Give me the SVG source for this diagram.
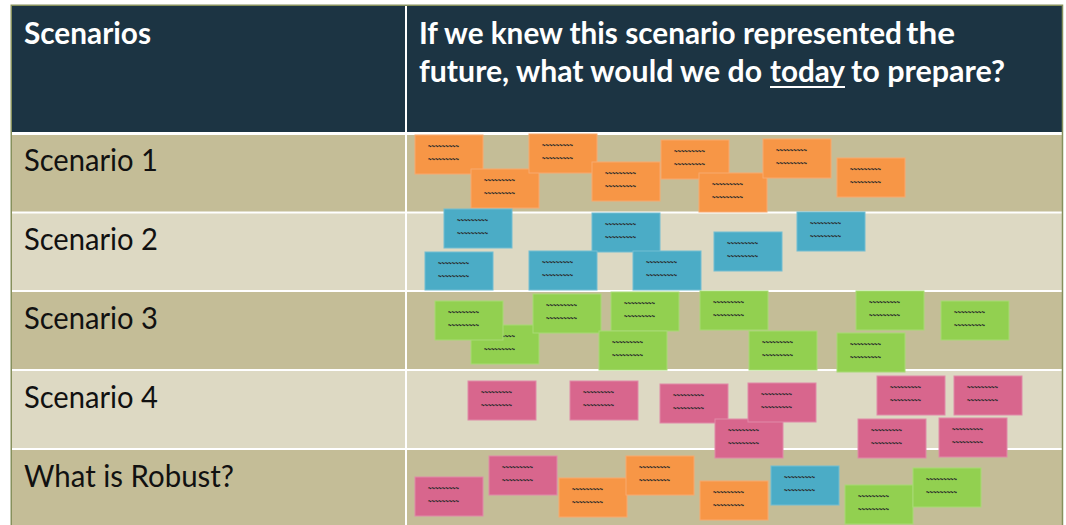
<svg xmlns="http://www.w3.org/2000/svg" width="1066" height="525" viewBox="0 0 1066 525">
<style>
.hd{fill:#1C3443}
.rd{fill:#C4BD97}
.rl{fill:#DDD9C3}
.ht{font-family:Lato,"Liberation Sans",sans-serif;font-weight:bold;font-size:30px;fill:#FFFFFF}
.lb{font-family:Lato,"Liberation Sans",sans-serif;font-size:30px;fill:#111111}
.note rect{stroke-width:1}
.or rect{fill:#F79646;stroke:#F8A96E}
.bl rect{fill:#4BACC6;stroke:#72BDD2}
.gr rect{fill:#92D050;stroke:#A8DA74}
.pk rect{fill:#D8668D;stroke:#E08AA8}
.note text{font-family:"Liberation Sans",sans-serif;font-size:10px;font-weight:bold;fill:#2A2A2A}
</style>
<rect x="0" y="0" width="1066" height="525" fill="#FFFFFF"/>
<g id="table">
<rect class="hd" x="12" y="6" width="393" height="126"/>
<rect class="hd" x="407" y="6" width="655" height="126"/>
<rect class="rd" x="12" y="135" width="393" height="76.5"/>
<rect class="rd" x="407" y="135" width="655" height="76.5"/>
<rect class="rl" x="12" y="213.5" width="393" height="76.5"/>
<rect class="rl" x="407" y="213.5" width="655" height="76.5"/>
<rect class="rd" x="12" y="292" width="393" height="77"/>
<rect class="rd" x="407" y="292" width="655" height="77"/>
<rect class="rl" x="12" y="371" width="393" height="77"/>
<rect class="rl" x="407" y="371" width="655" height="77"/>
<rect class="rd" x="12" y="450" width="393" height="80"/>
<rect class="rd" x="407" y="450" width="655" height="80"/>
<rect x="11.25" y="5.25" width="1051.25" height="530" fill="none" stroke="#86905C" stroke-width="1.5"/>
</g>
<g id="header">
<text class="ht" x="24" y="44" textLength="127" lengthAdjust="spacingAndGlyphs">Scenarios</text>
<text class="ht" y="44"><tspan x="419" textLength="483" lengthAdjust="spacingAndGlyphs">If we knew this scenario represented</tspan><tspan x="906" textLength="49" lengthAdjust="spacingAndGlyphs">the</tspan></text>
<text class="ht" y="82"><tspan x="419" textLength="343" lengthAdjust="spacingAndGlyphs">future, what would we do</tspan><tspan x="770" textLength="75" lengthAdjust="spacingAndGlyphs">today</tspan><tspan x="851" textLength="154" lengthAdjust="spacingAndGlyphs">to prepare?</tspan></text>
<line x1="770" y1="87" x2="845" y2="87" stroke="#FFFFFF" stroke-width="2"/>
</g>
<g id="labels">
<text class="lb" x="24" y="171" textLength="134" lengthAdjust="spacingAndGlyphs">Scenario 1</text>
<text class="lb" x="24" y="250" textLength="134" lengthAdjust="spacingAndGlyphs">Scenario 2</text>
<text class="lb" x="24" y="329" textLength="134" lengthAdjust="spacingAndGlyphs">Scenario 3</text>
<text class="lb" x="24" y="408" textLength="134" lengthAdjust="spacingAndGlyphs">Scenario 4</text>
<text class="lb" x="24" y="487" textLength="210" lengthAdjust="spacingAndGlyphs">What is Robust?</text>
</g>
<g id="scenario1-notes">
<g id="s1n1" class="note or"><rect x="415" y="135" width="68" height="39"/><text x="428" y="150" textLength="31" lengthAdjust="spacingAndGlyphs">~~~~~~~~~</text><text x="428" y="163" textLength="31" lengthAdjust="spacingAndGlyphs">~~~~~~~~~</text></g>
<g id="s1n2" class="note or"><rect x="471" y="169" width="68" height="39"/><text x="484" y="184" textLength="31" lengthAdjust="spacingAndGlyphs">~~~~~~~~~</text><text x="484" y="197" textLength="31" lengthAdjust="spacingAndGlyphs">~~~~~~~~~</text></g>
<g id="s1n3" class="note or"><rect x="529" y="134" width="68" height="39"/><text x="542" y="149" textLength="31" lengthAdjust="spacingAndGlyphs">~~~~~~~~~</text><text x="542" y="162" textLength="31" lengthAdjust="spacingAndGlyphs">~~~~~~~~~</text></g>
<g id="s1n4" class="note or"><rect x="592" y="162" width="68" height="39"/><text x="605" y="177" textLength="31" lengthAdjust="spacingAndGlyphs">~~~~~~~~~</text><text x="605" y="190" textLength="31" lengthAdjust="spacingAndGlyphs">~~~~~~~~~</text></g>
<g id="s1n5" class="note or"><rect x="661" y="140" width="68" height="39"/><text x="674" y="155" textLength="31" lengthAdjust="spacingAndGlyphs">~~~~~~~~~</text><text x="674" y="168" textLength="31" lengthAdjust="spacingAndGlyphs">~~~~~~~~~</text></g>
<g id="s1n6" class="note or"><rect x="699" y="173" width="68" height="39"/><text x="712" y="188" textLength="31" lengthAdjust="spacingAndGlyphs">~~~~~~~~~</text><text x="712" y="201" textLength="31" lengthAdjust="spacingAndGlyphs">~~~~~~~~~</text></g>
<g id="s1n7" class="note or"><rect x="763" y="139" width="68" height="39"/><text x="776" y="154" textLength="31" lengthAdjust="spacingAndGlyphs">~~~~~~~~~</text><text x="776" y="167" textLength="31" lengthAdjust="spacingAndGlyphs">~~~~~~~~~</text></g>
<g id="s1n8" class="note or"><rect x="837" y="158" width="68" height="39"/><text x="850" y="173" textLength="31" lengthAdjust="spacingAndGlyphs">~~~~~~~~~</text><text x="850" y="186" textLength="31" lengthAdjust="spacingAndGlyphs">~~~~~~~~~</text></g>
</g>
<g id="scenario2-notes">
<g id="s2n1" class="note bl"><rect x="444" y="209" width="68" height="39"/><text x="457" y="224" textLength="31" lengthAdjust="spacingAndGlyphs">~~~~~~~~~</text><text x="457" y="237" textLength="31" lengthAdjust="spacingAndGlyphs">~~~~~~~~~</text></g>
<g id="s2n2" class="note bl"><rect x="425" y="252" width="68" height="38"/><text x="438" y="267" textLength="31" lengthAdjust="spacingAndGlyphs">~~~~~~~~~</text><text x="438" y="280" textLength="31" lengthAdjust="spacingAndGlyphs">~~~~~~~~~</text></g>
<g id="s2n3" class="note bl"><rect x="592" y="213" width="68" height="39"/><text x="605" y="228" textLength="31" lengthAdjust="spacingAndGlyphs">~~~~~~~~~</text><text x="605" y="241" textLength="31" lengthAdjust="spacingAndGlyphs">~~~~~~~~~</text></g>
<g id="s2n4" class="note bl"><rect x="529" y="251" width="68" height="39"/><text x="542" y="266" textLength="31" lengthAdjust="spacingAndGlyphs">~~~~~~~~~</text><text x="542" y="279" textLength="31" lengthAdjust="spacingAndGlyphs">~~~~~~~~~</text></g>
<g id="s2n5" class="note bl"><rect x="633" y="251" width="68" height="39"/><text x="646" y="266" textLength="31" lengthAdjust="spacingAndGlyphs">~~~~~~~~~</text><text x="646" y="279" textLength="31" lengthAdjust="spacingAndGlyphs">~~~~~~~~~</text></g>
<g id="s2n6" class="note bl"><rect x="714" y="232" width="68" height="39"/><text x="727" y="247" textLength="31" lengthAdjust="spacingAndGlyphs">~~~~~~~~~</text><text x="727" y="260" textLength="31" lengthAdjust="spacingAndGlyphs">~~~~~~~~~</text></g>
<g id="s2n7" class="note bl"><rect x="797" y="212" width="68" height="39"/><text x="810" y="227" textLength="31" lengthAdjust="spacingAndGlyphs">~~~~~~~~~</text><text x="810" y="240" textLength="31" lengthAdjust="spacingAndGlyphs">~~~~~~~~~</text></g>
</g>
<g id="scenario3-notes">
<g id="s3n2" class="note gr"><rect x="471" y="325" width="68" height="39"/><text x="484" y="340" textLength="31" lengthAdjust="spacingAndGlyphs">~~~~~~~~~</text><text x="484" y="353" textLength="31" lengthAdjust="spacingAndGlyphs">~~~~~~~~~</text></g>
<g id="s3n1" class="note gr"><rect x="435" y="301" width="68" height="39"/><text x="448" y="316" textLength="31" lengthAdjust="spacingAndGlyphs">~~~~~~~~~</text><text x="448" y="329" textLength="31" lengthAdjust="spacingAndGlyphs">~~~~~~~~~</text></g>
<g id="s3n3" class="note gr"><rect x="533" y="294" width="68" height="39"/><text x="546" y="309" textLength="31" lengthAdjust="spacingAndGlyphs">~~~~~~~~~</text><text x="546" y="322" textLength="31" lengthAdjust="spacingAndGlyphs">~~~~~~~~~</text></g>
<g id="s3n4" class="note gr"><rect x="611" y="292" width="68" height="39"/><text x="624" y="307" textLength="31" lengthAdjust="spacingAndGlyphs">~~~~~~~~~</text><text x="624" y="320" textLength="31" lengthAdjust="spacingAndGlyphs">~~~~~~~~~</text></g>
<g id="s3n5" class="note gr"><rect x="599" y="331" width="68" height="39"/><text x="612" y="346" textLength="31" lengthAdjust="spacingAndGlyphs">~~~~~~~~~</text><text x="612" y="359" textLength="31" lengthAdjust="spacingAndGlyphs">~~~~~~~~~</text></g>
<g id="s3n6" class="note gr"><rect x="700" y="291" width="68" height="39"/><text x="713" y="306" textLength="31" lengthAdjust="spacingAndGlyphs">~~~~~~~~~</text><text x="713" y="319" textLength="31" lengthAdjust="spacingAndGlyphs">~~~~~~~~~</text></g>
<g id="s3n7" class="note gr"><rect x="749" y="331" width="68" height="39"/><text x="762" y="346" textLength="31" lengthAdjust="spacingAndGlyphs">~~~~~~~~~</text><text x="762" y="359" textLength="31" lengthAdjust="spacingAndGlyphs">~~~~~~~~~</text></g>
<g id="s3n8" class="note gr"><rect x="856" y="291" width="68" height="39"/><text x="869" y="306" textLength="31" lengthAdjust="spacingAndGlyphs">~~~~~~~~~</text><text x="869" y="319" textLength="31" lengthAdjust="spacingAndGlyphs">~~~~~~~~~</text></g>
<g id="s3n9" class="note gr"><rect x="837" y="333" width="68" height="39"/><text x="850" y="348" textLength="31" lengthAdjust="spacingAndGlyphs">~~~~~~~~~</text><text x="850" y="361" textLength="31" lengthAdjust="spacingAndGlyphs">~~~~~~~~~</text></g>
<g id="s3n10" class="note gr"><rect x="941" y="301" width="68" height="39"/><text x="954" y="316" textLength="31" lengthAdjust="spacingAndGlyphs">~~~~~~~~~</text><text x="954" y="329" textLength="31" lengthAdjust="spacingAndGlyphs">~~~~~~~~~</text></g>
</g>
<g id="scenario4-notes">
<g id="s4n1" class="note pk"><rect x="468" y="381" width="68" height="39"/><text x="481" y="396" textLength="31" lengthAdjust="spacingAndGlyphs">~~~~~~~~~</text><text x="481" y="409" textLength="31" lengthAdjust="spacingAndGlyphs">~~~~~~~~~</text></g>
<g id="s4n2" class="note pk"><rect x="570" y="381" width="68" height="39"/><text x="583" y="396" textLength="31" lengthAdjust="spacingAndGlyphs">~~~~~~~~~</text><text x="583" y="409" textLength="31" lengthAdjust="spacingAndGlyphs">~~~~~~~~~</text></g>
<g id="s4n3" class="note pk"><rect x="660" y="384" width="68" height="39"/><text x="673" y="399" textLength="31" lengthAdjust="spacingAndGlyphs">~~~~~~~~~</text><text x="673" y="412" textLength="31" lengthAdjust="spacingAndGlyphs">~~~~~~~~~</text></g>
<g id="s4n4" class="note pk"><rect x="715" y="419" width="68" height="39"/><text x="728" y="434" textLength="31" lengthAdjust="spacingAndGlyphs">~~~~~~~~~</text><text x="728" y="447" textLength="31" lengthAdjust="spacingAndGlyphs">~~~~~~~~~</text></g>
<g id="s4n5" class="note pk"><rect x="748" y="383" width="68" height="39"/><text x="761" y="398" textLength="31" lengthAdjust="spacingAndGlyphs">~~~~~~~~~</text><text x="761" y="411" textLength="31" lengthAdjust="spacingAndGlyphs">~~~~~~~~~</text></g>
<g id="s4n6" class="note pk"><rect x="877" y="376" width="68" height="39"/><text x="890" y="391" textLength="31" lengthAdjust="spacingAndGlyphs">~~~~~~~~~</text><text x="890" y="404" textLength="31" lengthAdjust="spacingAndGlyphs">~~~~~~~~~</text></g>
<g id="s4n7" class="note pk"><rect x="954" y="376" width="68" height="39"/><text x="967" y="391" textLength="31" lengthAdjust="spacingAndGlyphs">~~~~~~~~~</text><text x="967" y="404" textLength="31" lengthAdjust="spacingAndGlyphs">~~~~~~~~~</text></g>
<g id="s4n8" class="note pk"><rect x="858" y="419" width="68" height="39"/><text x="871" y="434" textLength="31" lengthAdjust="spacingAndGlyphs">~~~~~~~~~</text><text x="871" y="447" textLength="31" lengthAdjust="spacingAndGlyphs">~~~~~~~~~</text></g>
<g id="s4n9" class="note pk"><rect x="939" y="418" width="68" height="39"/><text x="952" y="433" textLength="31" lengthAdjust="spacingAndGlyphs">~~~~~~~~~</text><text x="952" y="446" textLength="31" lengthAdjust="spacingAndGlyphs">~~~~~~~~~</text></g>
</g>
<g id="robust-notes">
<g id="r1" class="note pk"><rect x="415" y="477" width="68" height="39"/><text x="428" y="492" textLength="31" lengthAdjust="spacingAndGlyphs">~~~~~~~~~</text><text x="428" y="505" textLength="31" lengthAdjust="spacingAndGlyphs">~~~~~~~~~</text></g>
<g id="r2" class="note pk"><rect x="489" y="456" width="68" height="39"/><text x="502" y="471" textLength="31" lengthAdjust="spacingAndGlyphs">~~~~~~~~~</text><text x="502" y="484" textLength="31" lengthAdjust="spacingAndGlyphs">~~~~~~~~~</text></g>
<g id="r3" class="note or"><rect x="559" y="478" width="68" height="39"/><text x="572" y="493" textLength="31" lengthAdjust="spacingAndGlyphs">~~~~~~~~~</text><text x="572" y="506" textLength="31" lengthAdjust="spacingAndGlyphs">~~~~~~~~~</text></g>
<g id="r4" class="note or"><rect x="626" y="456" width="68" height="39"/><text x="639" y="471" textLength="31" lengthAdjust="spacingAndGlyphs">~~~~~~~~~</text><text x="639" y="484" textLength="31" lengthAdjust="spacingAndGlyphs">~~~~~~~~~</text></g>
<g id="r5" class="note or"><rect x="700" y="481" width="68" height="39"/><text x="713" y="496" textLength="31" lengthAdjust="spacingAndGlyphs">~~~~~~~~~</text><text x="713" y="509" textLength="31" lengthAdjust="spacingAndGlyphs">~~~~~~~~~</text></g>
<g id="r6" class="note bl"><rect x="771" y="466" width="68" height="39"/><text x="784" y="481" textLength="31" lengthAdjust="spacingAndGlyphs">~~~~~~~~~</text><text x="784" y="494" textLength="31" lengthAdjust="spacingAndGlyphs">~~~~~~~~~</text></g>
<g id="r7" class="note gr"><rect x="845" y="485" width="68" height="39"/><text x="858" y="500" textLength="31" lengthAdjust="spacingAndGlyphs">~~~~~~~~~</text><text x="858" y="513" textLength="31" lengthAdjust="spacingAndGlyphs">~~~~~~~~~</text></g>
<g id="r8" class="note gr"><rect x="913" y="468" width="68" height="39"/><text x="926" y="483" textLength="31" lengthAdjust="spacingAndGlyphs">~~~~~~~~~</text><text x="926" y="496" textLength="31" lengthAdjust="spacingAndGlyphs">~~~~~~~~~</text></g>
</g>
</svg>
